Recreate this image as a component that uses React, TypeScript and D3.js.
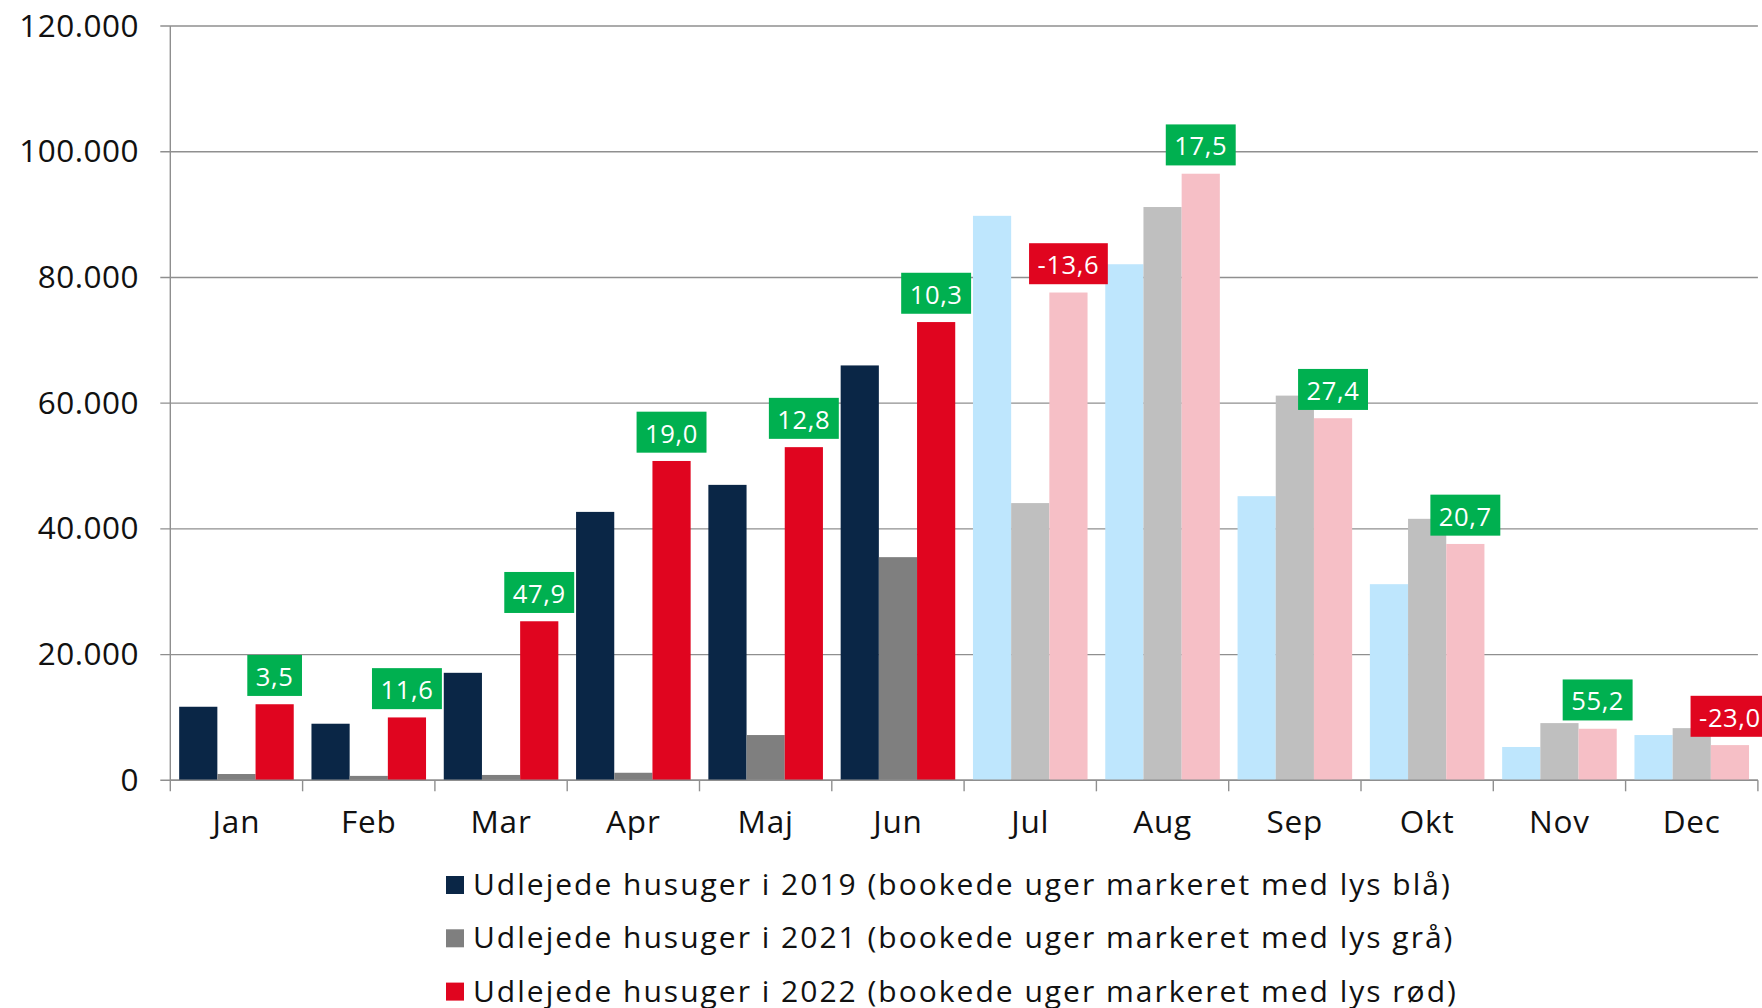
import React from "react";
import * as d3 from "d3";

const months = ["Jan", "Feb", "Mar", "Apr", "Maj", "Jun", "Jul", "Aug", "Sep", "Okt", "Nov", "Dec"];
const values2019 = [11700, 9000, 17100, 42700, 47000, 66000, 89800, 82100, 45200, 31200, 5300, 7200];
const values2021 = [1000, 700, 850, 1200, 7200, 35500, 44100, 91200, 61200, 41600, 9100, 8300];
const values2022 = [12100, 10000, 25300, 50800, 53000, 72900, 77600, 96500, 57600, 37600, 8200, 5600];
const changePct = [3.5, 11.6, 47.9, 19.0, 12.8, 10.3, -13.6, 17.5, 27.4, 20.7, 55.2, -23.0];
const bookedMonth = [false, false, false, false, false, false, true, true, true, true, true, true];
const yTicks = [0, 20000, 40000, 60000, 80000, 100000, 120000];
const legendLabels = [
  "Udlejede husuger i 2019 (bookede uger markeret med lys blå)",
  "Udlejede husuger i 2021 (bookede uger markeret med lys grå)",
  "Udlejede husuger i 2022 (bookede uger markeret med lys rød)",
];

const W = 1762;
const H = 1008;
const FONT = '"Open Sans", "Noto Sans", sans-serif';
const darkColors = ["#0a2646", "#7f7f7f", "#e0051f"];
const lightColors = ["#bee6fd", "#bfbfbf", "#f6bfc6"];
const GREEN = "#00b050";
const NEG = "#e0051f";
const GRID = "#8f8f8f";

const locale = d3.formatLocale({ decimal: ",", thousands: ".", grouping: [3], currency: ["", ""], minus: "-" });
const fmtTick = locale.format(",.0f");
const fmtPct = locale.format(".1f");

let ctx: CanvasRenderingContext2D | null = null;
function measure(text: string, size: number, spacing: number) {
  if (!ctx) ctx = document.createElement("canvas").getContext("2d");
  if (!ctx) return text.length * size * 0.55;
  ctx.font = `${size}px ${FONT}`;
  return ctx.measureText(text).width + spacing * text.length;
}

export default function App() {
  const left = 170.3;
  const right = 1757.9;
  const y = d3.scaleLinear().domain([0, 120000]).range([780.3, 26]);
  const x0 = d3.scaleBand<string>().domain(months).range([left, right]).paddingInner(0.134).paddingOuter(0.067);
  const x1 = d3.scaleBand<number>().domain([0, 1, 2]).range([0, x0.bandwidth()]);
  const series = [values2019, values2021, values2022];
  const step = x0.step();
  const y0 = y(0);

  const labelSize = 25.6;
  const labelSpacing = 0.6;
  const pad = 8.5;
  const boxH = 41;

  return (
    <svg width={W} height={H} style={{ position: "absolute", left: 0, top: 0, display: "block", background: "#fff" }}>
      {yTicks.map((t) => (
        <g key={t}>
          <line x1={left - 10} x2={right} y1={y(t)} y2={y(t)} stroke={GRID} strokeWidth={1.4} />
          <text x={139} y={y(t) + 10.5} textAnchor="end" fontFamily={FONT} fontSize={31.5} letterSpacing={0.5} fill="#111">
            {fmtTick(t)}
          </text>
        </g>
      ))}
      <line x1={left} x2={left} y1={y(120000)} y2={y0 + 11} stroke={GRID} strokeWidth={1.4} />
      {months.map((m, i) => (
        <line key={m} x1={left + step * (i + 1)} x2={left + step * (i + 1)} y1={y0} y2={y0 + 11} stroke={GRID} strokeWidth={1.4} />
      ))}
      {months.map((m, i) => (
        <g key={m}>
          {series.map((s, k) => (
            <rect
              key={k}
              x={(x0(m) as number) + (x1(k) as number)}
              width={x1.bandwidth()}
              y={y(s[i])}
              height={y0 - y(s[i])}
              fill={bookedMonth[i] ? lightColors[k] : darkColors[k]}
            />
          ))}
        </g>
      ))}
      <line x1={left} x2={right} y1={y0} y2={y0} stroke={GRID} strokeWidth={1.4} />
      {months.map((m) => (
        <text key={m} x={(x0(m) as number) + x0.bandwidth() / 2} y={833} textAnchor="middle" fontFamily={FONT} fontSize={31.5} letterSpacing={0.8} fill="#111">
          {m}
        </text>
      ))}
      {months.map((m, i) => {
        const txt = fmtPct(changePct[i]);
        const w = measure(txt, labelSize, labelSpacing) + pad * 2;
        const cx = (x0(m) as number) + (x1(2) as number) + x1.bandwidth() / 2;
        const bottom = y(values2022[i]) - 8.3;
        return (
          <g key={m}>
            <rect x={cx - w / 2} y={bottom - boxH} width={w} height={boxH} fill={changePct[i] < 0 ? NEG : GREEN} />
            <text x={cx} y={bottom - 10} textAnchor="middle" fontFamily={FONT} fontSize={labelSize} letterSpacing={labelSpacing} fill="#fff">
              {txt}
            </text>
          </g>
        );
      })}
      {legendLabels.map((l, k) => (
        <g key={l}>
          <rect x={446} y={876 + k * 53.3} width={18} height={18} fill={darkColors[k]} />
          <text x={473} y={895 + k * 53.3} fontFamily={FONT} fontSize={30} letterSpacing={2} fill="#111">
            {l}
          </text>
        </g>
      ))}
    </svg>
  );
}
